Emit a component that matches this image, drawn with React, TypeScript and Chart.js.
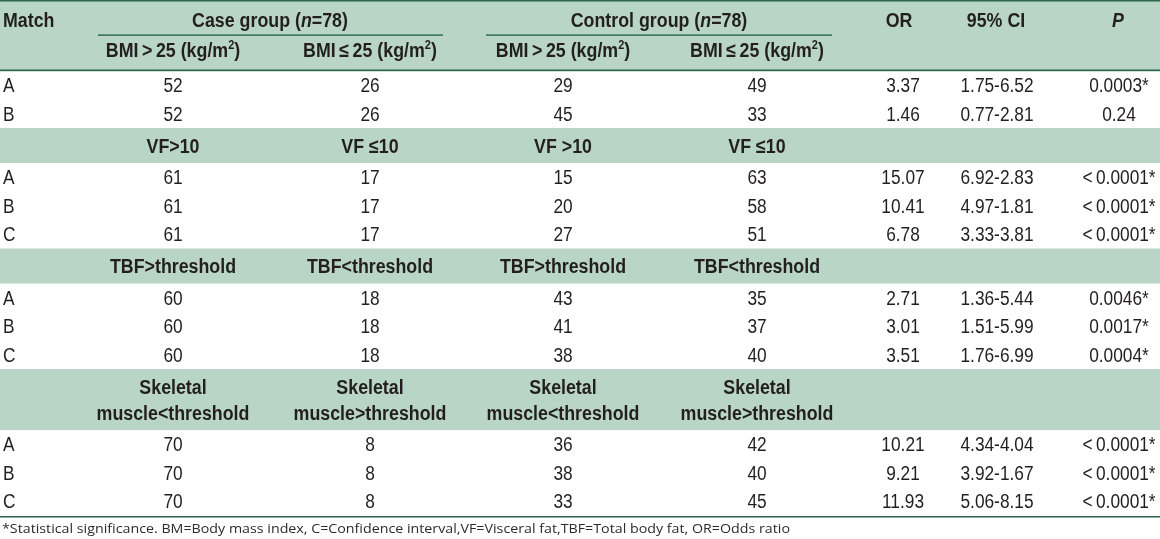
import { useEffect, useRef } from "react";
import { Chart, registerables } from "chart.js";

Chart.register(...registerables);

// ---------------- data ----------------
const groupHeaders = ["Case group", "Control group"];
const groupSizes = [78, 78];
const statHeaders = ["OR", "95% CI", "P"];
const sectionHeaders: string[][][] = [
  [["BMI\u2009>\u200925 (kg/m²)"], ["BMI\u2009≤\u200925 (kg/m²)"], ["BMI\u2009>\u200925 (kg/m²)"], ["BMI\u2009≤\u200925 (kg/m²)"]],
  [["VF>10"], ["VF ≤10"], ["VF >10"], ["VF ≤10"]],
  [["TBF>threshold"], ["TBF<threshold"], ["TBF>threshold"], ["TBF<threshold"]],
  [["Skeletal", "muscle<threshold"], ["Skeletal", "muscle>threshold"], ["Skeletal", "muscle<threshold"], ["Skeletal", "muscle>threshold"]],
];
const matchLabels = [["A", "B"], ["A", "B", "C"], ["A", "B", "C"], ["A", "B", "C"]];
const caseHigh = [[52, 52], [61, 61, 61], [60, 60, 60], [70, 70, 70]];
const caseLow = [[26, 26], [17, 17, 17], [18, 18, 18], [8, 8, 8]];
const controlHigh = [[29, 45], [15, 20, 27], [43, 41, 38], [36, 38, 33]];
const controlLow = [[49, 33], [63, 58, 51], [35, 37, 40], [42, 40, 45]];
const oddsRatio = [[3.37, 1.46], [15.07, 10.41, 6.78], [2.71, 3.01, 3.51], [10.21, 9.21, 11.93]];
const ciLower = [["1.75", "0.77"], ["6.92", "4.97", "3.33"], ["1.36", "1.51", "1.76"], ["4.34", "3.92", "5.06"]];
const ciUpper = [["6.52", "2.81"], ["2.83", "1.81", "3.81"], ["5.44", "5.99", "6.99"], ["4.04", "1.67", "8.15"]];
const pValues = [
  ["0.0003*", "0.24"],
  ["<0.0001*", "<0.0001*", "<0.0001*"],
  ["0.0046*", "0.0017*", "0.0004*"],
  ["<0.0001*", "<0.0001*", "<0.0001*"],
];
const footnote =
  "*Statistical significance. BM=Body mass index, C=Confidence interval,VF=Visceral fat,TBF=Total body fat, OR=Odds ratio";

// ---------------- layout (table units) ----------------
const TW = 1160;
const TH = 539;
const MATCH_X = 3;
const COLS = [173, 370, 563, 757, 903, 997, 1119];
const GROUP_CENTERS = [270, 659];
const GROUP_RULES = [[98, 443], [486, 832]];
const STAT_HEAD_X = [899, 996, 1118];
const HEAD_R1 = 20;
const HEAD_RULE = 35;
const HEAD_R2 = 50;
const HEAD_BOTTOM = 70;
const ROW_H = 28.5;
const BAND_H = 35;
const BAND_H2 = 61;
const LINE_GAP = 26;
const FOOT_Y = 528;
const FOOT_W = 788;

const GREEN = "#b9d5c5";
const DARK = "#2b6749";
const INK = "#231f20";
const FONT = "'Liberation Sans', Arial, sans-serif";
const FOOT_FONT = "'Open Sans', 'Noto Sans', sans-serif";

type Seg = string | { t: string; i?: boolean; sup?: boolean };
interface Cell {
  x: number;
  y: number;
  segs: Seg[];
  bold?: boolean;
  align?: "left" | "center";
  kind?: "body" | "head" | "foot";
}

function unitSegs(s: string): Seg[] {
  if (s.includes("²")) {
    const parts = s.split("²");
    return [parts[0], { t: "2", sup: true }, parts[1]];
  }
  return [s];
}

function fmtP(p: string) {
  return p.replace("<", "<\u2009");
}

function buildTable() {
  const cells: Cell[] = [];
  const bands: [number, number][] = [[0, HEAD_BOTTOM]];
  cells.push({ x: MATCH_X, y: HEAD_R1, segs: ["Match"], bold: true, align: "left", kind: "head" });
  groupHeaders.forEach((g, i) => {
    cells.push({
      x: GROUP_CENTERS[i],
      y: HEAD_R1,
      segs: [g + " (", { t: "n", i: true }, "=" + groupSizes[i] + ")"],
      bold: true,
      kind: "head",
    });
  });
  statHeaders.forEach((h, i) => {
    cells.push({ x: STAT_HEAD_X[i], y: HEAD_R1, segs: h === "P" ? [{ t: h, i: true }] : [h], bold: true, kind: "head" });
  });
  let y = HEAD_BOTTOM + 1;
  sectionHeaders.forEach((heads, s) => {
    if (s === 0) {
      heads.forEach((h, c) => cells.push({ x: COLS[c], y: HEAD_R2, segs: unitSegs(h[0]), bold: true, kind: "head" }));
    } else {
      const bh = heads[0].length > 1 ? BAND_H2 : BAND_H;
      bands.push([y, y + bh]);
      const mid = y + bh / 2;
      heads.forEach((h, c) => {
        h.forEach((line, li) => {
          const ly = mid + (li - (h.length - 1) / 2) * LINE_GAP;
          cells.push({ x: COLS[c], y: ly, segs: unitSegs(line), bold: true, kind: "head" });
        });
      });
      y += bh;
    }
    matchLabels[s].forEach((m, r) => {
      const cy = y + ROW_H / 2;
      cells.push({ x: MATCH_X, y: cy, segs: [m], align: "left" });
      const vals = [
        String(caseHigh[s][r]),
        String(caseLow[s][r]),
        String(controlHigh[s][r]),
        String(controlLow[s][r]),
        oddsRatio[s][r].toFixed(2),
        ciLower[s][r] + "-" + ciUpper[s][r],
        fmtP(pValues[s][r]),
      ];
      vals.forEach((v, c) => cells.push({ x: COLS[c], y: cy, segs: [v] }));
      y += ROW_H;
    });
  });
  const tableBottom = y + 1;
  cells.push({ x: 2, y: FOOT_Y, segs: [footnote], align: "left", kind: "foot" });
  return { cells, bands, tableBottom };
}

function fontFor(kind: string, bold: boolean, italic: boolean, sup: boolean) {
  const size = kind === "foot" ? 13 : 20;
  const s = sup ? size * 0.62 : size;
  const fam = kind === "foot" ? FOOT_FONT : FONT;
  return { font: `${italic ? "italic " : ""}${bold ? "bold " : ""}${s}px ${fam}`, size };
}

function drawCell(ctx: CanvasRenderingContext2D, cell: Cell, px: number, py: number) {
  const kind = cell.kind || "body";
  const bold = !!cell.bold;
  let sx = kind === "foot" ? 1 : bold ? 0.89 : 0.865;
  const segs = cell.segs.map((sg) => (typeof sg === "string" ? { t: sg } : sg));
  const widths = segs.map((sg) => {
    ctx.font = fontFor(kind, bold, !!sg.i, !!sg.sup).font;
    return ctx.measureText(sg.t).width;
  });
  let total = widths.reduce((a, b) => a + b, 0);
  if (kind === "foot") sx = FOOT_W / total;
  total *= sx;
  let x = cell.align === "left" ? px : px - total / 2;
  const size = kind === "foot" ? 13 : 20;
  const baseline = py + (size * 0.716) / 2;
  ctx.fillStyle = kind === "foot" ? "#2b2b2b" : INK;
  ctx.textAlign = "left";
  ctx.textBaseline = "alphabetic";
  segs.forEach((sg, i) => {
    ctx.font = fontFor(kind, bold, !!sg.i, !!sg.sup).font;
    ctx.save();
    ctx.translate(x, sg.sup ? baseline - size * 0.4 : baseline);
    ctx.scale(sx, 1);
    ctx.fillText(sg.t, 0, 0);
    ctx.restore();
    x += widths[i] * sx;
  });
}

export default function App() {
  const ref = useRef<HTMLCanvasElement | null>(null);
  useEffect(() => {
    if (!ref.current) return;
    const { cells, bands, tableBottom } = buildTable();
    const tablePlugin = {
      id: "tablePlugin",
      beforeDatasetsDraw(chart: any) {
        const ctx: CanvasRenderingContext2D = chart.ctx;
        const xs = chart.scales.x;
        const ys = chart.scales.y;
        const X = (v: number) => xs.getPixelForValue(v);
        const Y = (v: number) => ys.getPixelForValue(v);
        ctx.save();
        ctx.fillStyle = "#ffffff";
        ctx.fillRect(X(0), Y(0), X(TW) - X(0), Y(TH) - Y(0));
        ctx.fillStyle = GREEN;
        bands.forEach(([a, b]) => ctx.fillRect(X(0), Y(a), X(TW) - X(0), Y(b) - Y(a)));
        ctx.fillStyle = DARK;
        ctx.fillRect(X(0), Y(0), X(TW) - X(0), Y(1.5) - Y(0));
        ctx.fillRect(X(0), Y(HEAD_BOTTOM - 0.5), X(TW) - X(0), Y(HEAD_BOTTOM + 1.2) - Y(HEAD_BOTTOM - 0.5));
        ctx.fillRect(X(0), Y(tableBottom - 0.5), X(TW) - X(0), Y(tableBottom + 1) - Y(tableBottom - 0.5));
        GROUP_RULES.forEach(([a, b]) =>
          ctx.fillRect(X(a), Y(HEAD_RULE - 0.6), X(b) - X(a), Y(HEAD_RULE + 0.8) - Y(HEAD_RULE - 0.6))
        );
        ctx.restore();
      },
      afterDatasetsDraw(chart: any) {
        const ctx: CanvasRenderingContext2D = chart.ctx;
        const meta = chart.getDatasetMeta(0);
        ctx.save();
        meta.data.forEach((el: any, i: number) => drawCell(ctx, cells[i], el.x, el.y));
        ctx.restore();
      },
    };
    const chart = new Chart(ref.current, {
      type: "scatter",
      data: {
        datasets: [
          {
            data: cells.map((c) => ({ x: c.x, y: c.y })),
            pointRadius: 0,
            pointHoverRadius: 0,
            showLine: false,
          },
        ],
      },
      options: {
        responsive: false,
        maintainAspectRatio: false,
        animation: false,
        events: [],
        layout: { padding: 0 },
        plugins: { legend: { display: false }, tooltip: { enabled: false } },
        scales: {
          x: { type: "linear", min: 0, max: TW, display: false },
          y: { type: "linear", min: 0, max: TH, reverse: true, display: false },
        },
      },
      plugins: [tablePlugin],
    });
    return () => chart.destroy();
  }, []);
  return (
    <div style={{ position: "fixed", left: 0, top: 0, width: TW, height: TH, background: "#fff" }}>
      <canvas ref={ref} width={TW} height={TH} style={{ display: "block", width: TW, height: TH }} />
    </div>
  );
}
